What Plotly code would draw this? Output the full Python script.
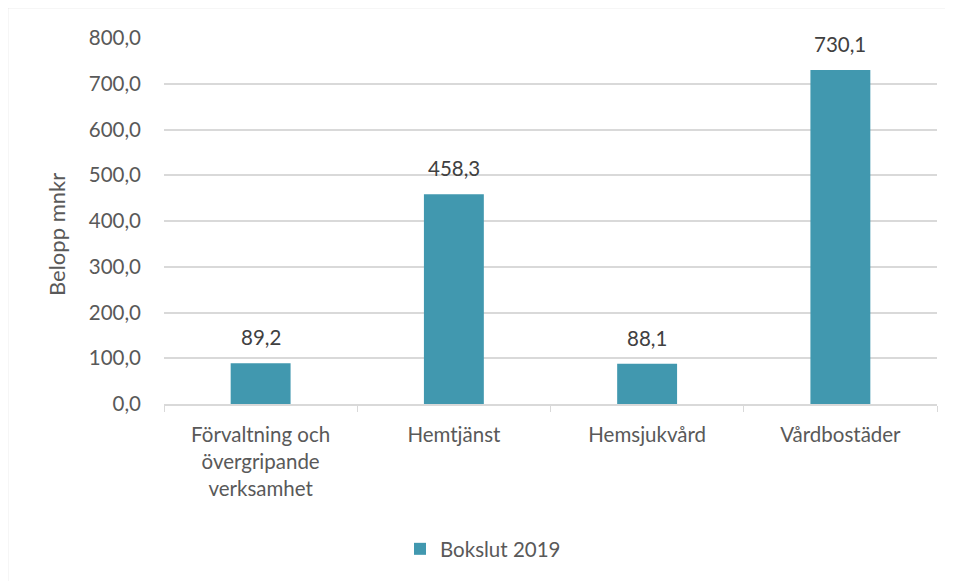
import plotly.graph_objects as go

categories = ["Förvaltning och<br>övergripande<br>verksamhet", "Hemtjänst", "Hemsjukvård", "Vårdbostäder"]
values = [89.2, 458.3, 88.1, 730.1]
labels = ["89,2", "458,3", "88,1", "730,1"]
series_name = "Bokslut 2019"
y_title = "Belopp mnkr"
y_tickvals = [0, 100, 200, 300, 400, 500, 600, 700, 800]

OFF = 8  # default body margin of the html page
W, H = 953 - OFF, 581 - OFF
L, T = 164 - OFF, 38 - OFF
pw, ph = 773, 366
R, B = W - L - pw, H - T - ph

font_family = "Lato, Open Sans, sans-serif"
text_color = "#595959"
grid_color = "#d9d9d9"
fs = 20.5


def px_x(x):
    return (x - OFF - L) / pw


def px_y(y):
    return (H - B - (y - OFF)) / ph


fig = go.Figure()
fig.add_trace(go.Bar(
    x=categories, y=values, name=series_name,
    marker=dict(color="#4198AF", line=dict(width=0)),
    width=0.31,
))

for c, v, t in zip(categories, values, labels):
    fig.add_annotation(x=c, y=v, text=t, showarrow=False, yanchor="bottom",
                       yshift=12, font=dict(size=fs, color="#404040", family=font_family))

fig.add_annotation(xref="paper", yref="paper", x=px_x(57), y=px_y(234),
                   xanchor="center", yanchor="middle", text=y_title, textangle=-90,
                   showarrow=False, font=dict(size=22, color=text_color, family=font_family))

fig.update_layout(
    width=W, height=H,
    margin=dict(l=L, r=R, t=T, b=B),
    paper_bgcolor="white", plot_bgcolor="white",
    font=dict(family=font_family, size=fs, color=text_color),
    showlegend=True,
    legend=dict(orientation="h", x=px_x(400), xanchor="left", y=px_y(549), yanchor="middle",
                font=dict(size=fs, color=text_color), itemwidth=30),
    xaxis=dict(
        showgrid=False, showline=True, linecolor=grid_color, linewidth=1.5,
        ticks="outside", tickson="boundaries", ticklen=6, tickcolor=grid_color,
        tickfont=dict(size=fs, color=text_color), ticklabelstandoff=12,
    ),
    yaxis=dict(
        range=[0, 800], tickvals=y_tickvals, tickformat=".1f",
        showgrid=True, gridcolor=grid_color, gridwidth=1.5,
        showline=False, zeroline=False, ticks="",
        tickfont=dict(size=fs, color=text_color), ticklabelstandoff=22,
    ),
    separators=", ",
    shapes=[dict(type="rect", xref="paper", yref="paper",
                 x0=px_x(7.5), x1=px_x(975), y0=px_y(7.5), y1=px_y(600),
                 line=dict(color=grid_color, width=1.5), fillcolor="rgba(0,0,0,0)", layer="below")],
)

fig.write_html("out.html")
